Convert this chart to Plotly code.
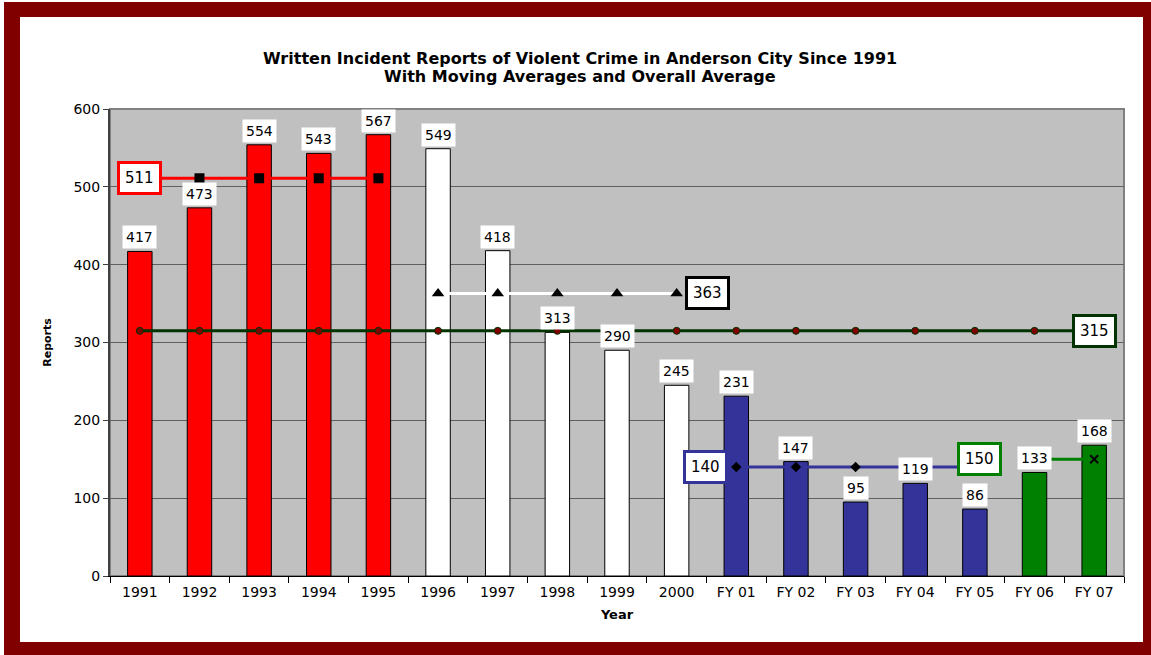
import plotly.graph_objects as go

W, H = 1151, 655
ML, MR, MT, MB = 110, 27, 109, 79
PW, PH = W - ML - MR, H - MT - MB

categories = ["1991", "1992", "1993", "1994", "1995", "1996", "1997", "1998", "1999", "2000",
              "FY 01", "FY 02", "FY 03", "FY 04", "FY 05", "FY 06", "FY 07"]
reports = [417, 473, 554, 543, 567, 549, 418, 313, 290, 245, 231, 147, 95, 119, 86, 133, 168]
bar_colors = ["#FF0000"] * 5 + ["#FFFFFF"] * 5 + ["#333399"] * 5 + ["#008000"] * 2

avg_1991_1995 = 511
avg_1996_2000 = 363
avg_fy01_fy05 = 140
avg_fy06_fy07 = 150
overall_avg = 315

cats_a = categories[0:5]
cats_b = categories[5:10]
cats_c = categories[10:15]
cats_d = categories[15:17]

FONT = "DejaVu Sans, Arial"


def px(xp):
    return (xp - ML) / PW


def py(yp):
    return (H - MB - yp) / PH


fig = go.Figure()
fig.add_trace(go.Bar(x=categories, y=reports, marker=dict(color=bar_colors, line=dict(color="#000000", width=1)),
                     width=0.41, showlegend=False, hoverinfo="x+y"))

fig.add_trace(go.Scatter(x=categories, y=[overall_avg] * len(categories), mode="lines+markers",
                         line=dict(color="#003300", width=3),
                         marker=dict(symbol="circle", size=7, color="#800000", line=dict(color="#003300", width=1)),
                         showlegend=False))
fig.add_trace(go.Scatter(x=cats_a, y=[avg_1991_1995] * len(cats_a), mode="lines+markers",
                         line=dict(color="#FF0000", width=3),
                         marker=dict(symbol="square", size=10, color="#000000"), showlegend=False))
fig.add_trace(go.Scatter(x=cats_b, y=[avg_1996_2000] * len(cats_b), mode="lines+markers",
                         line=dict(color="#FFFFFF", width=3),
                         marker=dict(symbol="triangle-up", size=11, color="#000000"), showlegend=False))
fig.add_trace(go.Scatter(x=cats_c, y=[avg_fy01_fy05] * len(cats_c), mode="lines+markers",
                         line=dict(color="#333399", width=3),
                         marker=dict(symbol="diamond", size=8, color="#000000"), showlegend=False))
fig.add_trace(go.Scatter(x=cats_d, y=[avg_fy06_fy07] * len(cats_d), mode="lines+markers",
                         line=dict(color="#008000", width=3),
                         marker=dict(symbol="x-thin", size=8, color="#000000", line=dict(color="#000000", width=2)),
                         showlegend=False))
# extend green line leftwards to its label
fig.add_trace(go.Scatter(x=[14.1, 15], y=[avg_fy06_fy07] * 2, mode="lines",
                         line=dict(color="#008000", width=3), showlegend=False, hoverinfo="skip"))

annotations = []
for i, v in enumerate(reports):
    annotations.append(dict(x=i, y=v, xref="x", yref="y", text=str(v), showarrow=False,
                            yanchor="bottom", yshift=2, bgcolor="#FFFFFF", borderpad=3,
                            font=dict(family=FONT, size=14, color="#000000")))

box_font = dict(family=FONT, size=15, color="#000000")
for i, v, col, shift in [(0, avg_1991_1995, "#FF0000", 0),
                         (9, avg_1996_2000, "#000000", 31),
                         (10, avg_fy01_fy05, "#333399", -31),
                         (15, avg_fy06_fy07, "#008000", -55),
                         (16, overall_avg, "#003300", 0)]:
    annotations.append(dict(x=i, y=v, xref="x", yref="y", text=str(v), showarrow=False, xshift=shift,
                            bgcolor="#FFFFFF", bordercolor=col, borderwidth=3, borderpad=5, font=box_font))

annotations.append(dict(x=px(580), y=py(47), xref="paper", yref="paper", showarrow=False,
                        text="<b>Written Incident Reports of Violent Crime in Anderson City Since 1991</b>",
                        font=dict(family=FONT, size=16, color="#000000")))
annotations.append(dict(x=px(580), y=py(65), xref="paper", yref="paper", showarrow=False,
                        text="<b>With Moving Averages and Overall Average</b>",
                        font=dict(family=FONT, size=16, color="#000000")))

shapes = []
maroon = "#800000"
for x0, y0, x1, y1 in [(4, 2, 20, 655), (4, 2, 1151, 17), (1143, 2, 1151, 655), (4, 642, 1151, 655)]:
    shapes.append(dict(type="rect", xref="paper", yref="paper", x0=px(x0), x1=px(x1), y0=py(y1), y1=py(y0),
                       fillcolor=maroon, line=dict(width=0), layer="above"))
# plot area frame
shapes.append(dict(type="rect", xref="paper", yref="paper", x0=0, x1=1, y0=0, y1=1,
                   line=dict(color="#808080", width=2), layer="below"))

fig.update_layout(
    width=W, height=H,
    margin=dict(l=ML, r=MR, t=MT, b=MB, autoexpand=False),
    paper_bgcolor="#FFFFFF", plot_bgcolor="#C0C0C0",
    annotations=annotations, shapes=shapes,
    font=dict(family=FONT, size=13, color="#000000"),
    xaxis=dict(type="category", categoryorder="array", categoryarray=categories,
               range=[-0.5, 16.5], showgrid=False, ticks="outside", tickson="boundaries", ticklen=6,
               tickcolor="#000000", showline=True, linecolor="#000000", linewidth=1,
               tickfont=dict(family=FONT, size=14), zeroline=False, ticklabelstandoff=3,
               title=dict(text="<b>Year</b>", font=dict(family=FONT, size=13), standoff=11)),
    yaxis=dict(range=[0, 600], dtick=100, showgrid=True, gridcolor="#606060", gridwidth=1,
               ticks="outside", ticklen=5, tickcolor="#404040", showline=True, linecolor="#404040",
               linewidth=2, zeroline=False, tickfont=dict(family=FONT, size=14),
               title=dict(text="<b>Reports</b>", font=dict(family=FONT, size=11), standoff=20)),
)

fig.write_html("out.html", config={"displayModeBar": False},
               post_script="document.body.style.margin='0';document.body.style.overflow='hidden';")
